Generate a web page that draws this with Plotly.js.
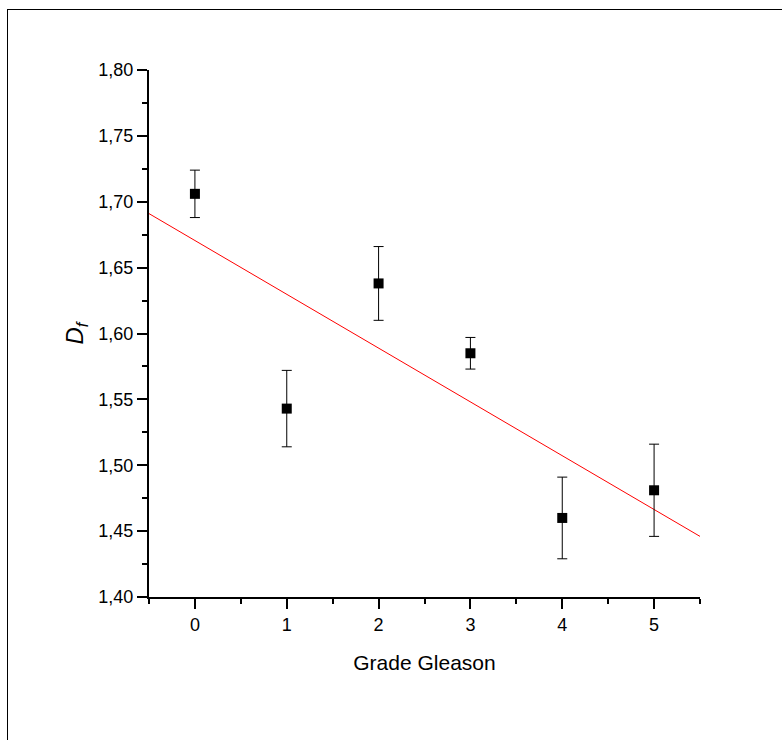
<!DOCTYPE html>
<html>
<head>
<meta charset="utf-8">
<script src="https://cdn.plot.ly/plotly-3.0.1.min.js"></script>
<style>
  html, body { margin: 0; padding: 0; background: #fff; }
  #wrap { position: relative; width: 782px; height: 740px; }
  #chart { position: absolute; left: 0; top: 0; width: 782px; height: 740px; }
  #frame { position: absolute; left: 7px; top: 9px; width: 800px; height: 800px;
           border-left: 1px solid #000; border-top: 1px solid #000; pointer-events: none; }
</style>
</head>
<body>
<div id="wrap">
  <div id="chart"></div>
  <div id="frame"></div>
</div>
<script>
// Data
const grade = [0, 1, 2, 3, 4, 5];
const df = [1.706, 1.543, 1.638, 1.585, 1.460, 1.481];
const dfErr = [0.018, 0.029, 0.028, 0.012, 0.031, 0.035];
// Linear fit line endpoints (as drawn in the reference)
const fitX = [-0.5, 5.5];
const fitY = [1.691, 1.446];

const xTickVals = [0, 1, 2, 3, 4, 5];
const xTickText = ['0', '1', '2', '3', '4', '5'];

const traces = [
  {
    x: fitX, y: fitY, type: 'scatter', mode: 'lines',
    line: { color: '#ff0000', width: 1 },
    hoverinfo: 'skip', showlegend: false
  },
  {
    x: grade, y: df, type: 'scatter', mode: 'markers',
    marker: { symbol: 'square', size: 10, color: '#000' },
    error_y: { type: 'data', array: dfErr, visible: true, color: '#000', thickness: 1, width: 5 },
    showlegend: false
  }
];

const fam = 'Liberation Sans, Arial, sans-serif';
const axisFont = { family: fam, size: 18, color: '#000' };

const layout = {
  width: 782, height: 740,
  margin: { l: 149, r: 82, t: 70, b: 143 },
  paper_bgcolor: '#fff', plot_bgcolor: '#fff',
  separators: ', ',
  showlegend: false,
  xaxis: {
    range: [-0.5, 5.5],
    tickmode: 'array', tickvals: xTickVals, ticktext: xTickText,
    ticks: 'outside', ticklen: 10, tickwidth: 2, tickcolor: '#000',
    minor: { dtick: 0.5, tick0: 0, ticks: 'outside', ticklen: 5, tickwidth: 2, tickcolor: '#000', showgrid: false },
    showline: true, linecolor: '#000', linewidth: 2,
    showgrid: false, zeroline: false,
    tickfont: axisFont,
    title: { text: 'Grade Gleason', font: { family: fam, size: 21, color: '#000' }, standoff: 22 }
  },
  yaxis: {
    range: [1.40, 1.80],
    tickmode: 'linear', tick0: 1.40, dtick: 0.05, tickformat: '.2f',
    ticks: 'outside', ticklen: 10, tickwidth: 2, tickcolor: '#000',
    minor: { dtick: 0.025, tick0: 1.40, ticks: 'outside', ticklen: 5, tickwidth: 2, tickcolor: '#000', showgrid: false },
    showline: true, linecolor: '#000', linewidth: 2,
    showgrid: false, zeroline: false,
    tickfont: axisFont,
    title: { text: '<i>D</i><sub><i>f</i></sub>', font: { family: fam, size: 24, color: '#000' }, standoff: 8 }
  }
};

Plotly.newPlot('chart', traces, layout, { displayModeBar: false, staticPlot: true });
</script>
</body>
</html>
